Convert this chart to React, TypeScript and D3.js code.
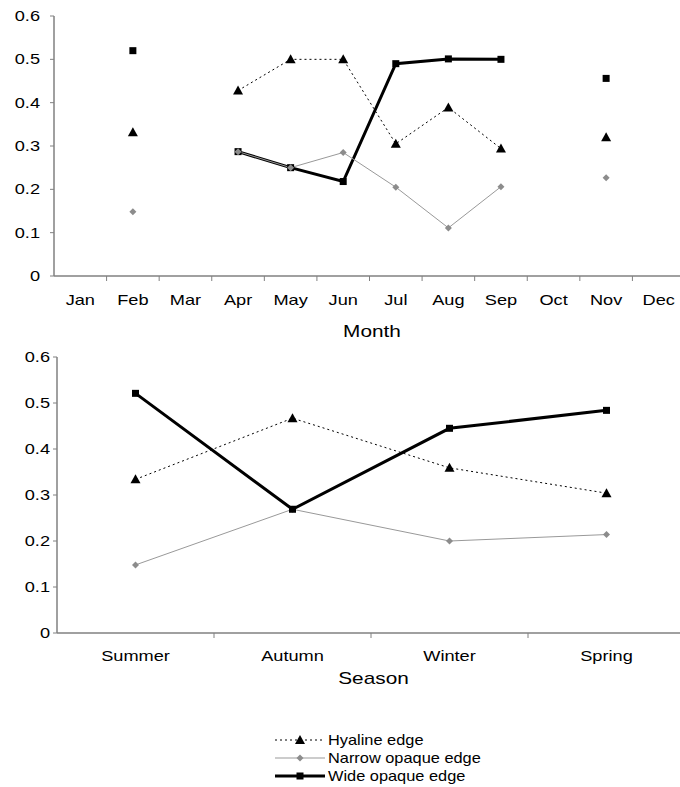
import React from "react";
import * as d3 from "d3";

const months = ["Jan", "Feb", "Mar", "Apr", "May", "Jun", "Jul", "Aug", "Sep", "Oct", "Nov", "Dec"];
const hyalineMonth: (number | null)[] = [null, 0.332, null, 0.428, 0.5, 0.5, 0.305, 0.389, 0.294, null, 0.32, null];
const narrowMonth: (number | null)[] = [null, 0.148, null, 0.287, 0.25, 0.285, 0.205, 0.111, 0.206, null, 0.227, null];
const wideMonth: (number | null)[] = [null, 0.52, null, 0.287, 0.25, 0.218, 0.49, 0.501, 0.5, null, 0.456, null];

const seasons = ["Summer", "Autumn", "Winter", "Spring"];
const hyalineSeason = [0.334, 0.467, 0.359, 0.304];
const narrowSeason = [0.148, 0.269, 0.2, 0.214];
const wideSeason = [0.521, 0.269, 0.445, 0.484];

const yTicks = [0, 0.1, 0.2, 0.3, 0.4, 0.5, 0.6];
const legendLabels = ["Hyaline edge", "Narrow opaque edge", "Wide opaque edge"];

const FONT = "Liberation Sans, Arial, sans-serif";
const AXIS = "#808080";
const GRAY = "#999999";
const SX = 1.3;

type Series = { values: (number | null)[]; kind: "hyaline" | "narrow" | "wide" };

function T({ x, y, anchor, size, sx, children }: { x: number; y: number; anchor?: string; size: number; sx?: number; children: React.ReactNode }) {
  return (
    <text transform={`translate(${x},${y}) scale(${sx ?? SX},1)`} textAnchor={anchor || "start"} fontSize={size} fontFamily={FONT} fill="#000">
      {children}
    </text>
  );
}

function Marker({ kind, x, y }: { kind: string; x: number; y: number }) {
  if (kind === "hyaline") {
    const s = 5;
    return <path d={`M${x},${y - s} L${x + s},${y + s * 0.8} L${x - s},${y + s * 0.8} Z`} fill="#000" />;
  }
  if (kind === "narrow") {
    const s = 3.5;
    return <path d={`M${x},${y - s} L${x + s},${y} L${x},${y + s} L${x - s},${y} Z`} fill="#8c8c8c" />;
  }
  return <rect x={x - 3.5} y={y - 3.5} width={7} height={7} fill="#000" />;
}

function lineStyle(kind: string) {
  if (kind === "hyaline") return { stroke: "#000", strokeWidth: 1, strokeDasharray: "2,3" };
  if (kind === "narrow") return { stroke: GRAY, strokeWidth: 1 };
  return { stroke: "#000", strokeWidth: 3 };
}

function Panel({
  cats, series, x0, x1, yTop, yBottom, title, titleY, labelY, yLabelGap,
}: {
  cats: string[]; series: Series[]; x0: number; x1: number; yTop: number; yBottom: number;
  title: string; titleY: number; labelY: number; yLabelGap: number;
}) {
  const band = (x1 - x0) / cats.length;
  const xs = d3.scaleBand<string>().domain(cats).range([x0, x0 + band * cats.length]);
  const y = d3.scaleLinear().domain([0, 0.6]).range([yBottom, yTop]);
  const cx = (i: number) => (xs(cats[i]) as number) + xs.bandwidth() / 2;
  const line = d3
    .line<number | null>()
    .defined((d) => d !== null)
    .x((_, i) => cx(i))
    .y((d) => y(d as number));
  return (
    <g>
      {series.map((s) => (
        <path key={s.kind + "l"} d={line(s.values) || ""} fill="none" {...lineStyle(s.kind)} />
      ))}
      {series.map((s) =>
        s.values.map((v, i) =>
          v === null ? null : <Marker key={s.kind + i} kind={s.kind} x={cx(i)} y={y(v)} />
        )
      )}
      <line x1={x0} x2={680} y1={yBottom} y2={yBottom} stroke={AXIS} strokeWidth={1.5} />
      <line x1={x0} x2={x0} y1={yTop} y2={yBottom} stroke={AXIS} strokeWidth={1.5} />
      {yTicks.map((t) => (
        <g key={t}>
          <line x1={x0 - 4} x2={x0} y1={y(t)} y2={y(t)} stroke={AXIS} strokeWidth={1} />
          <T x={x0 - yLabelGap} y={y(t) + 5} anchor="end" size={14}>
            {t === 0 ? "0" : t.toFixed(1)}
          </T>
        </g>
      ))}
      {cats.map((c, i) => (
        <g key={c}>
          {i > 0 && (
            <line x1={xs(c) as number} x2={xs(c) as number} y1={yBottom} y2={yBottom + 5} stroke={AXIS} strokeWidth={1} />
          )}
          <T x={cx(i)} y={labelY} anchor="middle" size={14}>
            {c}
          </T>
        </g>
      ))}
      <T x={(x0 + 690) / 2} y={titleY} anchor="middle" size={16}>
        {title}
      </T>
    </g>
  );
}

export default function App() {
  const monthSeries: Series[] = [
    { values: hyalineMonth, kind: "hyaline" },
    { values: wideMonth, kind: "wide" },
    { values: narrowMonth, kind: "narrow" },
  ];
  const seasonSeries: Series[] = [
    { values: hyalineSeason, kind: "hyaline" },
    { values: narrowSeason, kind: "narrow" },
    { values: wideSeason, kind: "wide" },
  ];
  const kinds = ["hyaline", "narrow", "wide"];
  return (
    <svg width={680} height={787} style={{ position: "absolute", left: 0, top: 0, background: "#fff" }}>
      <rect width={680} height={787} fill="#fff" />
      <Panel cats={months} series={monthSeries} x0={54} x1={685} yTop={16} yBottom={276}
        title="Month" titleY={337} labelY={305} yLabelGap={14} />
      <Panel cats={seasons} series={seasonSeries} x0={57} x1={685} yTop={357} yBottom={633}
        title="Season" titleY={684} labelY={661} yLabelGap={7} />
      {kinds.map((k, i) => {
        const ly = 740 + i * 18;
        return (
          <g key={k}>
            <line x1={275} x2={325} y1={ly} y2={ly} {...lineStyle(k)} />
            <Marker kind={k} x={300} y={ly} />
            <T x={328} y={ly + 5} size={14} sx={1.17}>
              {legendLabels[i]}
            </T>
          </g>
        );
      })}
    </svg>
  );
}
